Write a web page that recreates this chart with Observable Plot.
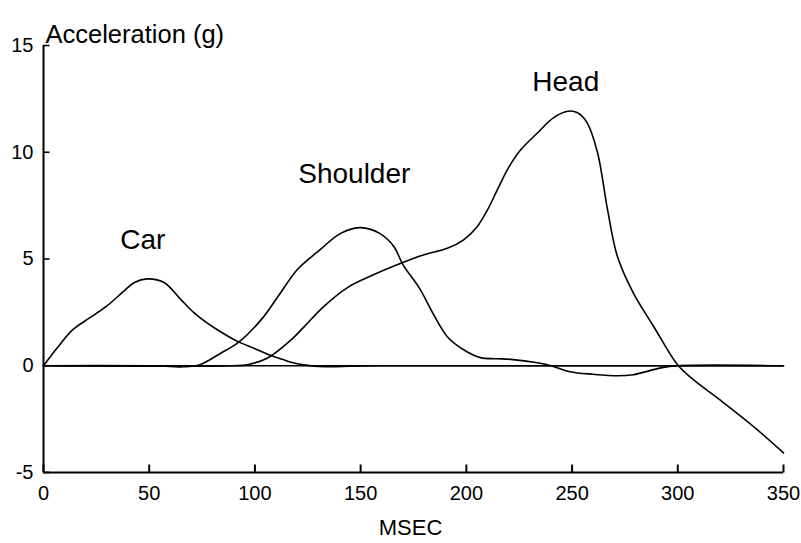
<!DOCTYPE html>
<html>
<head>
<meta charset="utf-8">
<script src="https://cdn.jsdelivr.net/npm/d3@7"></script>
<script src="https://cdn.jsdelivr.net/npm/@observablehq/plot@0.6"></script>
<style>
  html, body { margin: 0; padding: 0; background: #fff; }
  #chart { width: 801px; height: 543px; }
</style>
</head>
<body>
<div id="chart"></div>
<script>
// Car acceleration (g) vs time (msec)
const carT = [0, 7, 14, 22, 30, 38, 43, 49, 57, 65, 71, 76, 82, 92, 100, 107, 113, 118, 124, 130, 137, 145, 160, 200, 250, 300, 350];
const carG = [0, 0.9, 1.7, 2.25, 2.8, 3.5, 3.9, 4.07, 3.9, 3.1, 2.5, 2.1, 1.7, 1.13, 0.8, 0.5, 0.3, 0.14, 0.03, -0.03, -0.05, -0.02, 0, 0, 0, 0, 0];

// Shoulder
const shoulderT = [0, 50, 60, 66, 74, 84, 92, 103, 112, 120, 131, 140.5, 150, 159, 165.6, 170, 178, 184.5, 191, 198.7, 206.7, 214, 221, 233.6, 240, 249, 260, 271.5, 279, 292, 300, 350];
const shoulderG = [0, 0, -0.03, -0.05, 0.05, 0.6, 1.08, 2.16, 3.4, 4.5, 5.45, 6.2, 6.47, 6.2, 5.6, 4.74, 3.6, 2.4, 1.36, 0.75, 0.38, 0.33, 0.3, 0.14, 0, -0.28, -0.4, -0.47, -0.42, -0.1, 0, 0];

// Head
const headT = [0, 90, 96.5, 106, 117, 123, 132.5, 143.6, 154.7, 169, 180, 191, 198.7, 205, 210, 214.7, 219.5, 225.6, 233.6, 241, 248, 252.6, 257, 262, 266.8, 271.5, 279, 288.6, 300, 307.5, 320, 336, 350];
const headG = [0, 0, 0.05, 0.36, 1.2, 1.8, 2.77, 3.65, 4.2, 4.8, 5.2, 5.5, 5.9, 6.5, 7.3, 8.25, 9.2, 10.1, 10.9, 11.6, 11.92, 11.85, 11.4, 10, 7.3, 5.1, 3.4, 1.84, 0.03, -0.66, -1.6, -2.86, -4.08];

// Curve labels (data coordinates)
const labelNames = ["Car", "Shoulder", "Head"];
const labelT = [47, 147, 247];
const labelG = [5.9, 9.0, 13.3];

// Axis ticks and titles
const xTicks = [0, 50, 100, 150, 200, 250, 300, 350];
const yTicks = [-5, 0, 5, 10, 15];
const xTitle = "MSEC";
const yTitle = "Acceleration (g)";

const series = [
  {name: "Car", t: carT, g: carG},
  {name: "Shoulder", t: shoulderT, g: shoulderG},
  {name: "Head", t: headT, g: headG}
];
const rows = series.flatMap(s => s.t.map((t, i) => ({series: s.name, t, g: s.g[i]})));
const labels = labelNames.map((name, i) => ({name, t: labelT[i], g: labelG[i]}));

const font = "'Liberation Sans', Arial, Helvetica, sans-serif";
const [xMin, xMax] = [0, 350];
const [yMin, yMax] = [-5, 15];

// a plain straight tick, drawn from the anchor point in the vector's direction
const tickShape = {draw(context, l) { context.moveTo(0, 0); context.lineTo(0, -l); }};

const chart = Plot.plot({
  width: 801,
  height: 543,
  marginLeft: 43,
  marginRight: 18,
  marginTop: 45,
  marginBottom: 71,
  style: {fontFamily: font, background: "#fff", color: "#000"},
  x: {domain: [xMin, xMax]},
  y: {domain: [yMin, yMax]},
  marks: [
    Plot.ruleY([0], {stroke: "#000", strokeWidth: 1.3}),
    Plot.line(rows, {x: "t", y: "g", z: "series", stroke: "#000", strokeWidth: 1.6, curve: "catmull-rom"}),
    // axis lines
    Plot.ruleX([xMin], {stroke: "#000", strokeWidth: 2}),
    Plot.ruleY([yMin], {stroke: "#000", strokeWidth: 2}),
    // inward tick marks
    Plot.vector(xTicks, {x: d => d, frameAnchor: "bottom", length: 8, rotate: 0, anchor: "start", shape: tickShape,
      stroke: "#000", strokeWidth: 2, strokeLinecap: "butt"}),
    Plot.vector(yTicks, {y: d => d, frameAnchor: "left", length: 6, rotate: 90, anchor: "start", shape: tickShape,
      stroke: "#000", strokeWidth: 1.6, strokeLinecap: "butt"}),
    // tick labels
    Plot.axisX({ticks: xTicks, tickSize: 0, tickPadding: 13, tickFormat: d => String(d), fontSize: 20, label: null}),
    Plot.axisY({ticks: yTicks, tickSize: 0, tickPadding: 10, tickFormat: d => String(d), fontSize: 20, label: null}),
    Plot.text([xTitle], {frameAnchor: "bottom", dx: -3, dy: 55, lineAnchor: "middle", fontSize: 22, fill: "#000"}),
    Plot.text([yTitle], {frameAnchor: "top-left", dx: 2, dy: -21, textAnchor: "start", fontSize: 25.5, fill: "#000"}),
    Plot.text(labels, {x: "t", y: "g", text: "name", fontSize: 28, fill: "#000"})
  ]
});
document.getElementById("chart").appendChild(chart);
</script>
</body>
</html>
